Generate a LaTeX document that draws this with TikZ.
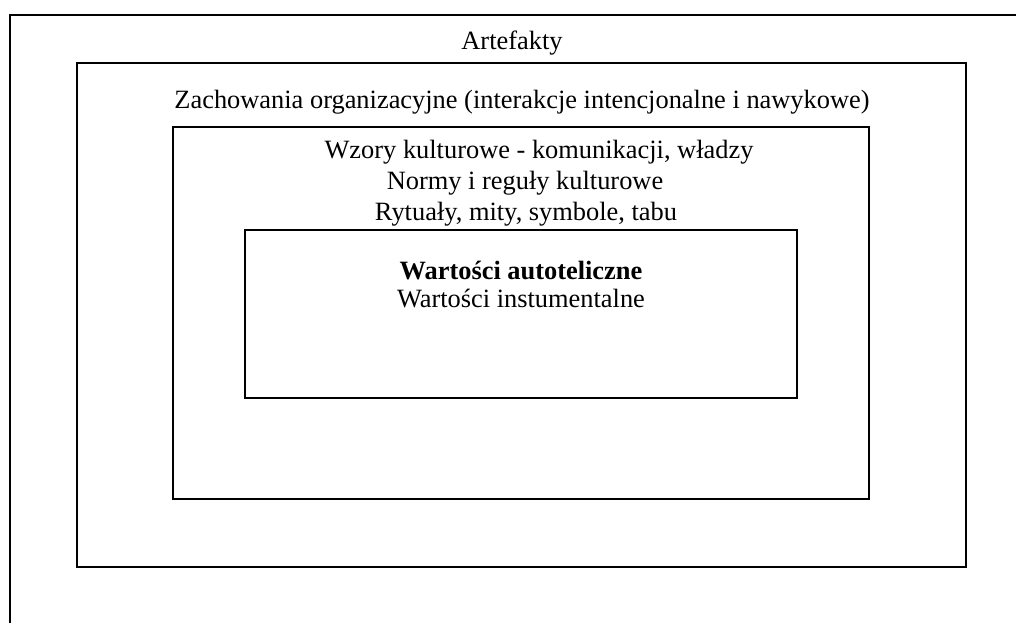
\documentclass[tikz,border=0pt]{standalone}
\usepackage{fontspec}
\setmainfont{Liberation Serif}
\begin{document}
\begin{tikzpicture}[
    x=0.5pt, y=-0.5pt,
    frame/.style={draw, line width=0.9pt},
    every node/.style={inner sep=0pt, font=\fontsize{13.2}{15}\selectfont}
]
    \clip (0,0) rectangle (1016,622);
    \useasboundingbox (0,0) rectangle (1016,622);
    % nested frames
    \draw [frame] (10,700) -- (10,15) -- (1100,15);
    \draw [frame] (77,63) rectangle (966,567);
    \draw [frame] (173,127) rectangle (869,499);
    \draw [frame] (245,230) rectangle (797,398);
    % labels
    \node (artefakty) at (512,43) {Artefakty};
    \node (zachowania) at (522,102) {Zachowania organizacyjne (interakcje intencjonalne i nawykowe)};
    \node (wzory) at (539,152) {Wzory kulturowe - komunikacji, władzy};
    \node (normy) at (525,183) {Normy i reguły kulturowe};
    \node (rytualy) at (526,214) {Rytuały, mity, symbole, tabu};
    \node [font=\fontsize{13.2}{15}\selectfont\bfseries] (autoteliczne) at (521,271) {Wartości autoteliczne};
    \node (instumentalne) at (521,299) {Wartości instumentalne};
\end{tikzpicture}
\end{document}
